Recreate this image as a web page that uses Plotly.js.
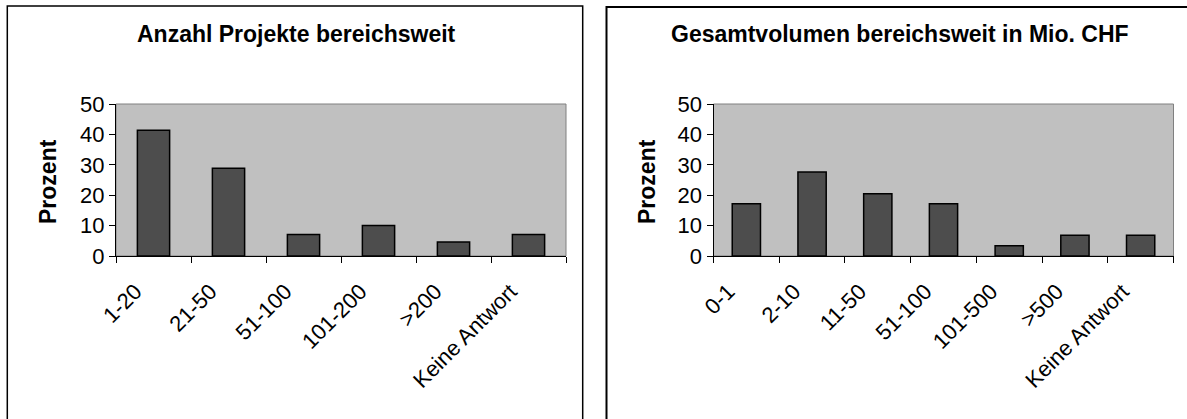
<!DOCTYPE html>
<html>
<head>
<meta charset="utf-8">
<script src="https://cdn.plot.ly/plotly-3.0.1.min.js"></script>
<style>html,body{margin:0;padding:0;background:#fff;}#chart{width:1187px;height:419px;}</style>
</head>
<body>
<div id="chart"></div>
<script>
// Chart 1: Anzahl Projekte bereichsweit
const categoriesA = ['1-20', '21-50', '51-100', '101-200', '>200', 'Keine Antwort'];
const valuesA = [41.4, 28.9, 7.1, 10.0, 4.6, 7.1];
// Chart 2: Gesamtvolumen bereichsweit in Mio. CHF
const categoriesB = ['0-1', '2-10', '11-50', '51-100', '101-500', '>500', 'Keine Antwort'];
const valuesB = [17.2, 27.6, 20.5, 17.2, 3.4, 6.8, 6.8];
const titleA = 'Anzahl Projekte bereichsweit';
const titleB = 'Gesamtvolumen bereichsweit in Mio. CHF';
const yTitle = 'Prozent';
const yTicks = [0, 10, 20, 30, 40, 50];

const W = 1187, H = 419;
const FONT = '"Liberation Sans", Arial, sans-serif';
const px = v => v / W;
const py = v => 1 - v / H;

const barStyle = {color: '#4D4D4D', line: {color: '#000000', width: 1.5}};

const traces = [
  {type: 'bar', x: categoriesA, y: valuesA, xaxis: 'x', yaxis: 'y', marker: barStyle, width: 0.43, hoverinfo: 'none'},
  {type: 'bar', x: categoriesB, y: valuesB, xaxis: 'x2', yaxis: 'y2', marker: barStyle, width: 0.43, hoverinfo: 'none'}
];

function xAxis(domain, cats) {
  return {
    domain: domain, type: 'category', categoryorder: 'array', categoryarray: cats,
    range: [-0.5, cats.length - 0.5], showline: true, linecolor: '#000', linewidth: 1,
    ticks: 'outside', ticklen: 6, tickcolor: '#000', tickwidth: 1, tickson: 'boundaries',
    tickangle: -45, tickfont: {family: FONT, size: 22, color: '#000'},
    ticklabelstandoff: 13, ticklabelshift: -18,
    showgrid: false, zeroline: false, fixedrange: true
  };
}
function yAxis(domain, anchor) {
  return {
    domain: domain, anchor: anchor, range: [0, 50], tickmode: 'array', tickvals: yTicks,
    showline: true, linecolor: '#000', linewidth: 1,
    ticks: 'outside', ticklen: 6, tickcolor: '#000', tickwidth: 1,
    tickfont: {family: FONT, size: 22, color: '#000'},
    showgrid: false, zeroline: false, fixedrange: true
  };
}

const yDom = [py(256), py(104)];
const layout = {
  width: W, height: H, margin: {l: 0, r: 0, t: 0, b: 0, pad: 0},
  paper_bgcolor: '#fff', plot_bgcolor: 'rgba(0,0,0,0)', showlegend: false,
  xaxis: Object.assign(xAxis([px(116), px(566)], categoriesA), {anchor: 'y'}),
  yaxis: yAxis(yDom, 'x'),
  xaxis2: Object.assign(xAxis([px(713.5), px(1173.5)], categoriesB), {anchor: 'y2'}),
  yaxis2: yAxis(yDom, 'x2'),
  shapes: [
    {type: 'rect', xref: 'paper', yref: 'paper', x0: px(7.3), x1: px(582.7), y0: -0.1, y1: py(6),
     line: {color: '#000', width: 1.5}, fillcolor: 'rgba(0,0,0,0)', layer: 'below'},
    {type: 'rect', xref: 'paper', yref: 'paper', x0: px(606.5), x1: 1.05, y0: -0.1, y1: py(7),
     line: {color: '#000', width: 2}, fillcolor: 'rgba(0,0,0,0)', layer: 'below'},
    {type: 'rect', xref: 'x domain', yref: 'y domain', x0: 0, x1: 1, y0: 0, y1: 1,
     line: {color: '#808080', width: 1}, fillcolor: '#C0C0C0', layer: 'below'},
    {type: 'rect', xref: 'x2 domain', yref: 'y2 domain', x0: 0, x1: 1, y0: 0, y1: 1,
     line: {color: '#808080', width: 1}, fillcolor: '#C0C0C0', layer: 'below'}
  ],
  annotations: [
    {text: '<b>' + titleA + '</b>', xref: 'paper', yref: 'paper', x: px(296), y: py(34),
     xanchor: 'center', yanchor: 'middle', showarrow: false, font: {family: FONT, size: 23, color: '#000'}},
    {text: '<b>' + titleB + '</b>', xref: 'paper', yref: 'paper', x: px(900), y: py(34),
     xanchor: 'center', yanchor: 'middle', showarrow: false, font: {family: FONT, size: 23, color: '#000'}},
    {text: '<b>' + yTitle + '</b>', xref: 'paper', yref: 'paper', x: px(48), y: py(182),
     xanchor: 'center', yanchor: 'middle', textangle: -90, showarrow: false, font: {family: FONT, size: 23, color: '#000'}},
    {text: '<b>' + yTitle + '</b>', xref: 'paper', yref: 'paper', x: px(647), y: py(182),
     xanchor: 'center', yanchor: 'middle', textangle: -90, showarrow: false, font: {family: FONT, size: 23, color: '#000'}}
  ]
};

Plotly.newPlot('chart', traces, layout, {staticPlot: true, displayModeBar: false});
</script>
</body>
</html>
